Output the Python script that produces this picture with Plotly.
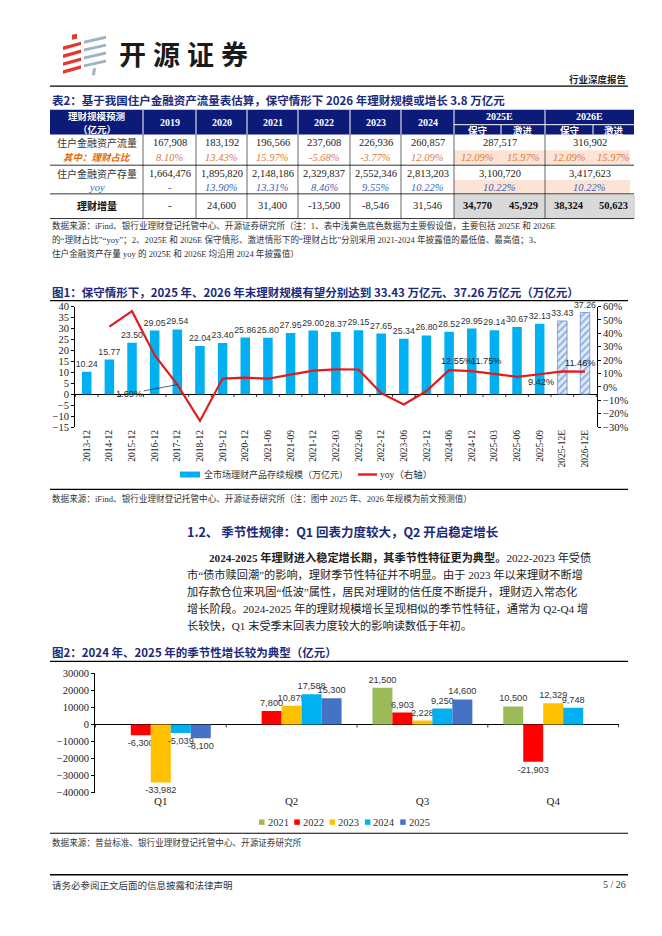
import plotly.graph_objects as go

W, H = 662, 936
def X(p): return p / W
def Y(p): return 1 - p / H

SERIF = "Liberation Serif, 'Times New Roman', 'Noto Sans CJK SC'"
SANS = "'Liberation Sans', Arial, 'Noto Sans CJK SC'"
CJK = "'Noto Sans CJK SC', 'Liberation Serif'"
NAVY = "#1B2A7A"
HEAD = "#0C1A78"

# ---------------- data: table ----------------
table_label_head = ["理财规模预测", "（亿元）"]
table_years = ["2019", "2020", "2021", "2022", "2023", "2024"]
est_years = ["2025E", "2026E"]
est_cases = ["保守", "激进", "保守", "激进"]
row_labels = ["住户金融资产流量", "其中：理财占比", "住户金融资产存量", "yoy", "理财增量"]
flow = [167908, 183192, 196566, 237608, 226936, 260857]
flow_est = [287517, 316902]
share = [8.10, 13.43, 15.97, -5.68, -3.77, 12.09]
share_est = [12.09, 15.97, 12.09, 15.97]
stock = [1664476, 1895820, 2148186, 2329837, 2552346, 2813203]
stock_est = [3100720, 3417623]
stock_yoy = [None, 13.90, 13.31, 8.46, 9.55, 10.22]
stock_yoy_est = [10.22, 10.22]
wm_incr = [None, 24600, 31400, -13500, -8546, 31546]
wm_incr_est = [34770, 45929, 38324, 50623]

# ---------------- data: figure 1 ----------------
periods = ["2013-12", "2014-12", "2015-12", "2016-12", "2017-12", "2018-12", "2019-12",
           "2020-12", "2021-06", "2021-09", "2021-12", "2022-03", "2022-06", "2022-12",
           "2023-06", "2023-12", "2024-06", "2024-12", "2025-03", "2025-06", "2025-09",
           "2025-12E", "2026-12E"]
scale = [10.24, 15.77, 23.50, 29.05, 29.54, 22.04, 23.40, 25.86, 25.80, 27.95, 29.00,
         28.37, 29.15, 27.65, 25.34, 26.80, 28.52, 29.95, 29.14, 30.67, 32.13, 33.43, 37.26]
yoy = [None, 45.0, 56.5, 23.6, 1.69, -25.4, 6.2, 6.9, 6.1, 9.2, 12.1, 13.0, 12.98,
       -4.66, -13.07, -3.07, 12.55, 11.75, 9.8, 7.54, 9.42, 11.62, 11.46]
n_actual = 21

# ---------------- data: figure 2 ----------------
quarters = ["Q1", "Q2", "Q3", "Q4"]
season = {
    "2021": [None, None, 21500, 10500],
    "2022": [-6300, 7800, 6903, -21903],
    "2023": [-33982, 10879, 2228, 12329],
    "2024": [-5039, 17588, 9250, 9748],
    "2025": [-8100, 15300, 14600, None],
}
season_colors = {"2021": "#9BBB59", "2022": "#FF0000", "2023": "#FFC000",
                 "2024": "#00B0F0", "2025": "#4472C4"}

anns = []
shapes = []

def text(x, y, t, size=10, color="#222", family=CJK, xanchor="center", yanchor="middle", **kw):
    anns.append(dict(x=X(x), y=Y(y), xref="paper", yref="paper", text=t, showarrow=False,
                     font=dict(size=size, color=color, family=family),
                     xanchor=xanchor, yanchor=yanchor, **kw))

def hline(x0, x1, y, color="black", width=1):
    shapes.append(dict(type="line", xref="paper", yref="paper", x0=X(x0), x1=X(x1),
                       y0=Y(y), y1=Y(y), line=dict(color=color, width=width)))

def vline(x, y0, y1, color="black", width=1):
    shapes.append(dict(type="line", xref="paper", yref="paper", x0=X(x), x1=X(x),
                       y0=Y(y0), y1=Y(y1), line=dict(color=color, width=width)))

def rect(x0, y0, x1, y1, fill):
    shapes.append(dict(type="rect", xref="paper", yref="paper", x0=X(x0), x1=X(x1),
                       y0=Y(y1), y1=Y(y0), fillcolor=fill, line=dict(width=0), layer="below"))

def poly(pts, fill):
    path = "M " + " L ".join(f"{X(a):.5f},{Y(b):.5f}" for a, b in pts) + " Z"
    shapes.append(dict(type="path", xref="paper", yref="paper", path=path,
                       fillcolor=fill, line=dict(width=0)))

# ---------------- page header ----------------
for yc in [31, 39, 47, 55]:
    poly([(55, yc + 3), (73, yc - 2), (73, yc + 1.5), (55, yc + 6.5)], "#E03A33")
poly([(64, 22), (69, 21), (69, 26), (64, 27)], "#E03A33")
for yc in [25, 33, 41, 49]:
    poly([(76, yc + 3), (98, yc - 2), (98, yc + 1), (76, yc + 6)], "#9DB3C2")
poly([(85, 56), (88, 56), (87, 63), (84, 63)], "#9DB3C2")
for i, ch in enumerate("开源证券"):
    text(124 + 34 * i, 41, f"<b>{ch}</b>", size=27, color="#1A1A1A")
text(620, 67, "<b>行业深度报告</b>", size=9.5, color="#222", xanchor="right")
hline(42, 620, 74, width=1.2)

# ---------------- table 2 ----------------
text(42, 88, "<b>表2：基于我国住户金融资产流量表估算，保守情形下 2026 年理财规模或增长 3.8 万亿元</b>",
     size=11.5, color=NAVY, xanchor="left")
cols = [42, 135, 188, 239, 290, 342, 393, 446, 493, 537, 585, 626]
T0, TM, T1 = 98, 113, 123
rect(42, T0, 626, T1, HEAD)
for c in cols[1:8]:
    vline(c, T0, T1, color="white", width=1)
vline(537, T0, T1, color="white", width=1)
vline(493, TM, T1, color="white", width=1)
vline(585, TM, T1, color="white", width=1)
hline(446, 626, TM, color="white", width=1)
rect(446, 139, 622, 153, "#FBE4D5")
rect(446, 169, 622, 183, "#FBE4D5")
rect(446, 184, 627, 208, "#D9D9D9")
for yy in [154, 183, 208]:
    hline(42, 626, yy, width=0.8)
for c in cols[1:8] + [537]:
    vline(c, T1, 208, width=0.6)

text(88.5, 104, f"<b>{table_label_head[0]}</b>", size=9.5, color="white")
text(88.5, 117, f"<b>{table_label_head[1]}</b>", size=9.5, color="white")
centers = [(cols[i] + cols[i + 1]) / 2 for i in range(1, 7)]
for cx, yr in zip(centers, table_years):
    text(cx, 110.5, f"<b>{yr}</b>", size=10, color="white", family=SERIF)
est_centers = [(446 + 537) / 2, (537 + 626) / 2]
split_centers = [(446 + 493) / 2, (493 + 537) / 2, (537 + 585) / 2, (585 + 626) / 2]
for cx, yr in zip(est_centers, est_years):
    text(cx, 105, f"<b>{yr}</b>", size=10, color="white", family=SERIF)
for cx, cs in zip(split_centers, est_cases):
    text(cx, 118, f"<b>{cs}</b>", size=9.5, color="white")

ORANGE = "#E07B39"
BLUE = "#3F5FAF"
R = [131, 146, 162, 177, 195]
text(88.5, R[0], row_labels[0], size=10, color="#333")
text(88.5, R[1], f"<b><i>{row_labels[1]}</i></b>", size=9.5, color="#E46C0A")
text(88.5, R[2], row_labels[2], size=10, color="#333")
text(88.5, R[3], f"<i>{row_labels[3]}</i>", size=10.5, color=BLUE, family=SERIF)
text(88.5, R[4], f"<b>{row_labels[4]}</b>", size=10, color="#111")

def fmt_int(v):
    return "-" if v is None else f"{v:,}"

def fmt_pct(v):
    return "-" if v is None else f"{v:.2f}%"

for i, cx in enumerate(centers):
    text(cx, R[0], fmt_int(flow[i]), size=10.5, family=SERIF, color="#222")
    text(cx, R[1], f"<i>{fmt_pct(share[i])}</i>", size=10.5, family=SERIF, color=ORANGE)
    text(cx, R[2], fmt_int(stock[i]), size=10.5, family=SERIF, color="#222")
    text(cx, R[3], f"<i>{fmt_pct(stock_yoy[i])}</i>", size=10.5, family=SERIF, color=BLUE)
    text(cx, R[4], fmt_int(wm_incr[i]), size=10.5, family=SERIF, color="#222")
for j, cx in enumerate(est_centers):
    text(cx, R[0], fmt_int(flow_est[j]), size=10.5, family=SERIF, color="#222")
    text(cx, R[2], fmt_int(stock_est[j]), size=10.5, family=SERIF, color="#222")
    text(cx, R[3], f"<i>{fmt_pct(stock_yoy_est[j])}</i>", size=10.5, family=SERIF, color=BLUE)
for j, cx in enumerate(split_centers):
    text(cx, R[1], f"<i>{fmt_pct(share_est[j])}</i>", size=10.5, family=SERIF, color=ORANGE)
    text(cx, R[4], f"<b>{fmt_int(wm_incr_est[j])}</b>", size=10.5, family=SERIF, color="#111")

src1 = ["数据来源：iFind、银行业理财登记托管中心、开源证券研究所（注：1、表中浅黄色底色数据为主要假设值，主要包括 2025E 和 2026E",
        "的“理财占比”“yoy”；2、2025E 和 2026E 保守情形、激进情形下的“理财占比”分别采用 2021-2024 年披露值的最低值、最高值；3、",
        "住户金融资产存量 yoy 的 2025E 和 2026E 均沿用 2024 年披露值）"]
for k, s in enumerate(src1):
    text(42, 215 + 14 * k, s, size=8.6, color="#333", family=SERIF, xanchor="left")

# ---------------- figure 1 ----------------
text(42, 282, "<b>图1：保守情形下，2025 年、2026 年末理财规模有望分别达到 33.43 万亿元、37.26 万亿元（万亿元）</b>",
     size=11.5, color=NAVY, xanchor="left")
hline(42, 620, 291, width=1.2)

fig = go.Figure()
fig.add_trace(go.Bar(
    x=periods[:n_actual], y=scale[:n_actual], name="全市场理财产品存续规模（万亿元）",
    marker=dict(color="#00B0F0", line=dict(width=0)), width=0.42, offset=-0.21,
    text=[f"{v:.2f}" for v in scale[:n_actual]], textposition="outside",
    textfont=dict(family=SANS, size=8.8, color="#333"), constraintext="none",
    cliponaxis=False, xaxis="x", yaxis="y", showlegend=False))
fig.add_trace(go.Bar(
    x=periods[n_actual:], y=scale[n_actual:], name="全市场理财产品存续规模（万亿元）",
    marker=dict(color="white", line=dict(width=0.6, color="#4472C4"),
                pattern=dict(shape="/", fgcolor="#4472C4", bgcolor="#DDEBF7", size=5, solidity=0.35)),
    width=0.42, offset=-0.21,
    text=[f"{v:.2f}" for v in scale[n_actual:]], textposition="outside",
    textfont=dict(family=SANS, size=8.8, color="#333"), constraintext="none",
    cliponaxis=False, xaxis="x", yaxis="y", showlegend=False))
fig.add_trace(go.Scatter(
    x=periods, y=yoy, mode="lines", name="yoy（右轴）",
    line=dict(color="#E41A1C", width=2.2), xaxis="x", yaxis="y2", showlegend=False,
    cliponaxis=False))

# zero-line tick marks for figure 1
for i in range(len(periods) + 1):
    shapes.append(dict(type="line", xref="x", yref="y", x0=i - 0.5, x1=i - 0.5, y0=0, y1=-1.3,
                       line=dict(color="black", width=0.8)))

# yoy labels
yoy_labels = {"2024-06": (7, 9), "2024-12": (14, 10), "2025-09": (1, -8), "2026-12E": (-5, 9)}
for p, (dx, dy) in yoy_labels.items():
    i = periods.index(p)
    anns.append(dict(x=p, y=yoy[i], xref="x", yref="y2", text=f"{yoy[i]:.2f}%", showarrow=False,
                     xshift=dx, yshift=dy, font=dict(family=SANS, size=9.2, color="#222")))
i17 = periods.index("2017-12")
anns.append(dict(x="2017-12", y=yoy[i17], xref="x", yref="y2", text=f"{yoy[i17]:.2f}%",
                 showarrow=True, arrowhead=0, arrowwidth=0.7, arrowcolor="#222", ax=-48, ay=9,
                 standoff=0, font=dict(family=SANS, size=9.2, color="#222")))

# legend fig 1 (manual)
rect(172, 464, 192, 470, "#00B0F0")
text(194, 467, "全市场理财产品存续规模（万亿元）", size=9, color="#333", xanchor="left")
hline(350, 369, 467, color="#E41A1C", width=2.4)
text(370, 467, "yoy（右轴）", size=9.5, color="#333", family=SERIF, xanchor="left")

hline(42, 620, 482, width=1.2)
text(42, 491, "数据来源：iFind、银行业理财登记托管中心、开源证券研究所（注：图中 2025 年、2026 年规模为前文预测值）",
     size=8.6, color="#333", family=SERIF, xanchor="left")

# ---------------- section text ----------------
text(177, 525, "<b>1.2、 季节性规律：Q1 回表力度较大，Q2 开启稳定增长</b>", size=12.5, color=NAVY, xanchor="left")
para = ["<b>2024-2025 年理财进入稳定增长期，其季节性特征更为典型。</b>2022-2023 年受债",
        "市“债市赎回潮”的影响，理财季节性特征并不明显。由于 2023 年以来理财不断增",
        "加存款仓位来巩固“低波”属性，居民对理财的信任度不断提升，理财迈入常态化",
        "增长阶段。2024-2025 年的理财规模增长呈现相似的季节性特征，通常为 Q2-Q4 增",
        "长较快，Q1 末受季末回表力度较大的影响读数低于年初。"]
for k, s in enumerate(para):
    text(199 if k == 0 else 177, 551 + 17.2 * k, s, size=11.2, color="#222", family=SERIF, xanchor="left")

# ---------------- figure 2 ----------------
text(42, 647, "<b>图2：2024 年、2025 年的季节性增长较为典型（亿元）</b>", size=11.5, color=NAVY, xanchor="left")
hline(42, 620, 656, width=1.2)

for yr, vals in season.items():
    fig.add_trace(go.Bar(
        x=quarters, y=vals, name=yr, marker=dict(color=season_colors[yr], line=dict(width=0)),
        texttemplate="%{y:,.0f}", textposition="outside", constraintext="none",
        textfont=dict(family=SANS, size=9.2, color="#333"), cliponaxis=False,
        xaxis="x2", yaxis="y3", showlegend=False))

for i in range(len(quarters) + 1):
    shapes.append(dict(type="line", xref="x2", yref="y3", x0=i - 0.5, x1=i - 0.5, y0=0, y1=-1800,
                       line=dict(color="black", width=0.8)))

# legend fig 2 (manual)
lx = 251
for yr in season:
    rect(lx, 816, lx + 5.5, 821.5, season_colors[yr])
    text(lx + 6.5, 819, yr, size=10.5, color="#333", family=SERIF, xanchor="left")
    lx += 35.3

hline(42, 620, 830, width=1.2)
text(42, 839, "数据来源：普益标准、银行业理财登记托管中心、开源证券研究所", size=8.6, color="#333",
     family=SERIF, xanchor="left")

# ---------------- footer ----------------
hline(42, 620, 872, width=1.6)
text(42, 882, "请务必参阅正文后面的信息披露和法律声明", size=9.5, color="#333", xanchor="left")
text(620, 882, "5 / 26", size=10, color="#333", family=SERIF, xanchor="right")

axis_common = dict(showgrid=False, linecolor="black", linewidth=1, ticks="outside", ticklen=3,
                   tickcolor="black", tickfont=dict(family=SERIF, size=10.5, color="#222"))

fig.update_layout(
    width=W, height=H, autosize=False, margin=dict(l=0, r=0, t=0, b=0),
    paper_bgcolor="white", plot_bgcolor="rgba(0,0,0,0)",
    barmode="group", bargap=0.236, bargroupgap=0,
    showlegend=False,
    xaxis=dict(domain=[X(67), X(589)], anchor="y", type="category", categoryorder="array",
               categoryarray=periods, tickangle=-90, showline=False, ticks="", showgrid=False,
               tickfont=dict(family=SERIF, size=9.5, color="#222")),
    yaxis=dict(domain=[Y(419), Y(297)], anchor="x", range=[-15, 40], dtick=5, showline=True,
               zeroline=True, zerolinecolor="black", zerolinewidth=1, **axis_common),
    yaxis2=dict(domain=[Y(419), Y(297)], anchor="x", overlaying="y", side="right",
                range=[-30, 60], dtick=10, ticksuffix="%", showline=True, zeroline=False,
                **axis_common),
    xaxis2=dict(domain=[X(87), X(611)], anchor="y3", type="category", showline=False, ticks="",
                showgrid=False, tickfont=dict(family=SERIF, size=11, color="#222")),
    yaxis3=dict(domain=[Y(789), Y(668)], anchor="x2", range=[-40000, 30000], dtick=10000,
                tickformat="d", showline=True, zeroline=True, zerolinecolor="black",
                zerolinewidth=1, **axis_common),
    annotations=anns, shapes=shapes,
)

fig.write_html("out.html")
